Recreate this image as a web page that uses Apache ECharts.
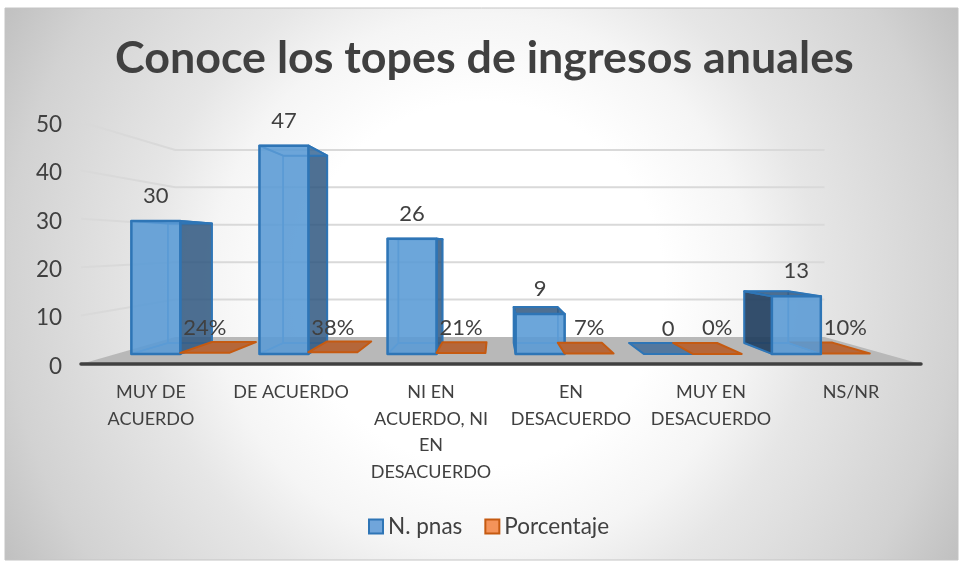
<!DOCTYPE html>
<html>
<head>
<meta charset="utf-8">
<title>Conoce los topes de ingresos anuales</title>
<script src="https://cdn.jsdelivr.net/npm/echarts@6/dist/echarts.min.js"></script>
<style>
  html, body { margin: 0; background: #fff; }
  #chart { width: 963px; height: 563px; }
</style>
</head>
<body>
<div id="chart"></div>
<script>
const categories = ['MUY DE\nACUERDO', 'DE ACUERDO', 'NI EN\nACUERDO, NI\nEN\nDESACUERDO', 'EN\nDESACUERDO', 'MUY EN\nDESACUERDO', 'NS/NR']
const personas = [30, 47, 26, 9, 0, 13]
const porcentaje = [0.24, 0.38, 0.21, 0.07, 0, 0.1]
const porcentajeLabels = ['24%', '38%', '21%', '7%', '0%', '10%']
const gridValues = [10, 20, 30, 40, 50]

// punto de fuga de la perspectiva (pixeles) y profundidad de cada plano
const vx = 496
const vy = 245
const S_FRONT = 0.915
const S_BACK = 0.8235
const S_WALL = 0.773
const BAR_W = 53.5
const textColor = '#404040'

const project = (api, cat, dx, val, s) => {
  const p = api.coord([cat, val])
  return [vx + (p[0] + dx - vx) * s, vy + (p[1] - vy) * s]
}

const poly = (points, fill, stroke, width, z2) => ({
  type: 'polygon',
  z2: z2,
  shape: { points: points },
  style: { fill: fill, stroke: stroke, lineWidth: width, lineJoin: 'round' }
})

// caja 3d, la cara frontal encima de todo
const box = (api, cat, dx0, dx1, val, c, z2) => {
  const fl0 = project(api, cat, dx0, 0, S_FRONT)
  const fr0 = project(api, cat, dx1, 0, S_FRONT)
  const fr1 = project(api, cat, dx1, val, S_FRONT)
  const fl1 = project(api, cat, dx0, val, S_FRONT)
  const bl0 = project(api, cat, dx0, 0, S_BACK)
  const br0 = project(api, cat, dx1, 0, S_BACK)
  const br1 = project(api, cat, dx1, val, S_BACK)
  const bl1 = project(api, cat, dx0, val, S_BACK)
  const list = []
  if (val > 0.5) {
    list.push(poly([bl0, br0, br1, bl1], c.back, c.inner, 1.5, z2))
    list.push(poly([fl0, bl0, br0, fr0], c.back, c.inner, 1.5, z2))
    const rightVisible = br0[0] > fr0[0]
    const leftVisible = bl0[0] < fl0[0]
    list.push(poly([fr0, br0, br1, fr1], rightVisible ? c.side : c.back, rightVisible ? c.line : c.inner, rightVisible ? 2 : 1.5, z2 + 1))
    list.push(poly([fl0, bl0, bl1, fl1], leftVisible ? c.sideLeft : c.back, leftVisible ? c.line : c.inner, leftVisible ? 2 : 1.5, z2 + 1))
    list.push(poly([fl1, fr1, br1, bl1], fl1[1] > bl1[1] ? c.side : c.back, c.line, 2, z2 + 1))
    list.push(poly([fl0, fr0, fr1, fl1], c.front, c.line, 2.5, z2 + 2))
  } else {
    list.push(poly([fl1, fr1, br1, bl1], c.flat, c.line, 2, z2))
  }
  return list
}

const blue = {
  front: 'rgba(91,155,213,0.86)', back: 'rgba(91,155,213,0.25)', side: 'rgba(44,82,122,0.8)',
  sideLeft: 'rgba(30,58,90,0.88)', flat: '#54789e', line: '#2e75b6', inner: '#5b9bd5'
}
const orange = {
  front: '#f4935a', back: '#f4935a', side: '#b8622e', sideLeft: '#b8622e', flat: '#b5673a', line: '#c55a11', inner: '#c55a11'
}

const renderScene = (params, api) => {
  const children = []
  const cs = params.coordSys
  const center = api.coord([0, 0])[0]
  const left = cs.x - center
  const right = cs.x + cs.width - center
  const a = project(api, 0, left, 0, 1)
  const b = project(api, 0, left, 0, S_WALL)
  const d = project(api, 0, right, 0, S_WALL)
  const e = project(api, 0, right, 0, 1)
  children.push(poly([a, b, d, e], '#b8b8b8', 'transparent', 0, 1))
  gridValues.forEach(v => {
    const p0 = project(api, 0, left, v, 1)
    const p1 = project(api, 0, left, v, S_WALL)
    const p2 = project(api, 0, right, v, S_WALL)
    children.push({
      type: 'polyline',
      z2: 1,
      shape: { points: [p0, p1, p2] },
      style: { fill: null, stroke: '#d9d9d9', lineWidth: 2 }
    })
  })
  return { type: 'group', children: children }
}

const renderPersonas = (params, api) => {
  const cat = api.value(0)
  const val = api.value(1)
  const z2 = cat === 5 ? 20 : 10
  const children = box(api, cat, -BAR_W, 0, val, blue, z2)
  const top = project(api, cat, -BAR_W / 2, val, S_FRONT)
  children.push({
    type: 'text',
    z2: 40,
    style: {
      text: String(val), x: top[0], y: top[1] - 25, fill: textColor,
      font: '22px Lato', align: 'center', verticalAlign: 'middle'
    }
  })
  return { type: 'group', children: children }
}

const renderPorcentaje = (params, api) => {
  const cat = api.value(0)
  const val = api.value(1)
  const z2 = cat === 5 ? 10 : 20
  const children = box(api, cat, 0, BAR_W, val, orange, z2)
  const top = project(api, cat, BAR_W / 2, 0, S_FRONT)
  children.push({
    type: 'text',
    z2: 40,
    style: {
      text: porcentajeLabels[cat], x: top[0], y: top[1] - 26, fill: textColor,
      font: '22px Lato', align: 'center', verticalAlign: 'middle'
    }
  })
  return { type: 'group', children: children }
}

const chart = echarts.init(document.getElementById('chart'))
chart.setOption({
  animation: false,
  backgroundColor: '#fff',
  graphic: [
    {
      type: 'rect',
      z: -10,
      shape: { x: 5, y: 8, width: 953, height: 552 },
      style: {
        stroke: '#c4c4c4',
        lineWidth: 1,
        fill: new echarts.graphic.RadialGradient(481.5, 284, 551, [
          { offset: 0, color: '#ffffff' },
          { offset: 0.33, color: '#ffffff' },
          { offset: 0.49, color: '#f5f5f5' },
          { offset: 0.61, color: '#e6e6e6' },
          { offset: 0.865, color: '#d2d2d2' },
          { offset: 1, color: '#c0c0c0' }
        ], true)
      }
    }
  ],
  title: {
    text: 'Conoce los topes de ingresos anuales',
    left: 110,
    top: 31,
    textStyle: { fontFamily: 'Lato', fontWeight: 'bold', fontSize: 44.8, color: textColor }
  },
  legend: {
    left: 368,
    top: 515,
    padding: 0,
    itemWidth: 14,
    itemHeight: 14,
    itemGap: 22,
    textStyle: { fontFamily: 'Lato', fontSize: 22.5, color: textColor },
    data: [
      { name: 'N. pnas', icon: 'rect', itemStyle: { color: '#70a5db', borderColor: '#2e75b6', borderWidth: 2 } },
      { name: 'Porcentaje', icon: 'rect', itemStyle: { color: '#f4935a', borderColor: '#c55a11', borderWidth: 2 } }
    ]
  },
  grid: { left: 81, top: 122, width: 840, height: 242 },
  xAxis: {
    type: 'category',
    data: categories,
    z: 5,
    axisLine: { lineStyle: { color: '#404040', width: 3.5, cap: 'round' } },
    axisTick: { show: false },
    axisLabel: { interval: 0, fontFamily: 'Lato', fontSize: 18, lineHeight: 26.5, color: textColor, margin: 15 }
  },
  yAxis: {
    type: 'value',
    min: 0,
    max: 50,
    interval: 10,
    axisLine: { show: false },
    axisTick: { show: false },
    splitLine: { show: false },
    axisLabel: {
      margin: 19,
      formatter: '{v|{value}}',
      rich: { v: { fontFamily: 'Lato', fontSize: 22.5, color: textColor, padding: [5, 0, 0, 0] } }
    }
  },
  series: [
    { name: 'escena', type: 'custom', silent: true, renderItem: renderScene, data: [[0, 0]], encode: { x: 0, y: 1 }, clip: false },
    { name: 'N. pnas', type: 'custom', renderItem: renderPersonas, data: personas.map((v, i) => [i, v]), encode: { x: 0, y: 1 } },
    { name: 'Porcentaje', type: 'custom', renderItem: renderPorcentaje, data: porcentaje.map((v, i) => [i, v]), encode: { x: 0, y: 1 } }
  ]
})
</script>
</body>
</html>
